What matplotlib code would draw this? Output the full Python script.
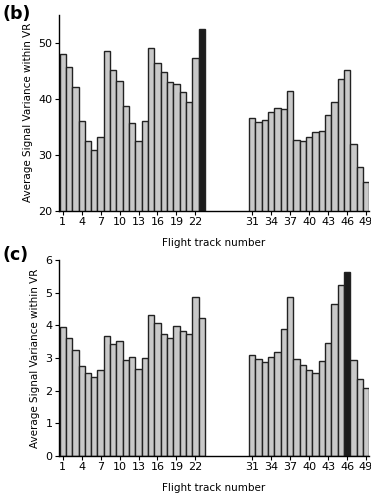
import matplotlib
matplotlib.use("Agg")
from matplotlib import pyplot as plt

# flight tracks present (24-30 missing)
tracks = list(range(1, 24)) + list(range(31, 50))

# panel (b): average signal variance within VR
varB = [47.9, 45.7, 42.0, 36.0, 32.4, 30.8, 33.2, 48.5, 45.2, 43.2, 38.7, 35.6,
        32.4, 36.1, 49.1, 46.3, 44.8, 43.0, 42.6, 41.2, 39.4, 47.2, 52.5,
        36.5, 35.8, 36.2, 37.6, 38.4, 38.1, 41.3, 32.7, 32.5, 33.1, 34.1, 34.2,
        37.1, 39.4, 43.5, 45.1, 31.9, 27.8, 25.1]
highlightB = 23

# panel (c)
varC = [3.94, 3.60, 3.26, 2.74, 2.54, 2.43, 2.62, 3.66, 3.43, 3.53, 2.94, 3.03,
        2.65, 2.99, 4.32, 4.08, 3.73, 3.60, 3.98, 3.83, 3.73, 4.87, 4.22,
        3.08, 2.97, 2.87, 3.03, 3.17, 3.88, 4.86, 2.96, 2.79, 2.63, 2.54, 2.91,
        3.46, 4.65, 5.23, 5.62, 2.95, 2.35, 2.09]
highlightC = 46

xticks = [1, 4, 7, 10, 13, 16, 19, 22, 31, 34, 37, 40, 43, 46, 49]

plt.rcParams['font.family'] = ['DejaVu Sans']

fig = plt.figure(figsize=(3.71, 5.0), dpi=100)


def panel(rect, values, hl, ylim, yticks, tag, tagy):
	ax = fig.add_axes(rect)
	colors = ['#1c1c1c' if t == hl else '#c9c9c9' for t in tracks]
	ax.bar(tracks, values, width=1.0, color=colors, edgecolor='#222222', linewidth=1.0,
		bottom=0)
	ax.set_xlim(0.35, 49.5)
	ax.set_ylim(*ylim)
	ax.set_yticks(yticks)
	ax.set_xticks(xticks)
	ax.spines['top'].set_visible(False)
	ax.spines['right'].set_visible(False)
	ax.spines['left'].set_linewidth(1.0)
	ax.spines['bottom'].set_linewidth(1.0)
	ax.tick_params(length=3, width=0.8, labelsize=8, pad=1.5)
	ax.set_xlabel('Flight track number', fontsize=7.5, labelpad=8)
	ax.set_ylabel('Average Signal Variance within VR', fontsize=7.5, labelpad=4)
	fig.text(0.008, tagy, tag, fontsize=12.5, fontweight='bold',
		va='top', ha='left')
	return ax


panel([0.158, 0.578, 0.837, 0.393], varB, highlightB, (20, 55), [20, 30, 40, 50], '(b)', 0.99)
panel([0.158, 0.088, 0.837, 0.392], varC, highlightC, (0, 6), [0, 1, 2, 3, 4, 5, 6], '(c)', 0.508)

plt.savefig('out.png', dpi=100)
